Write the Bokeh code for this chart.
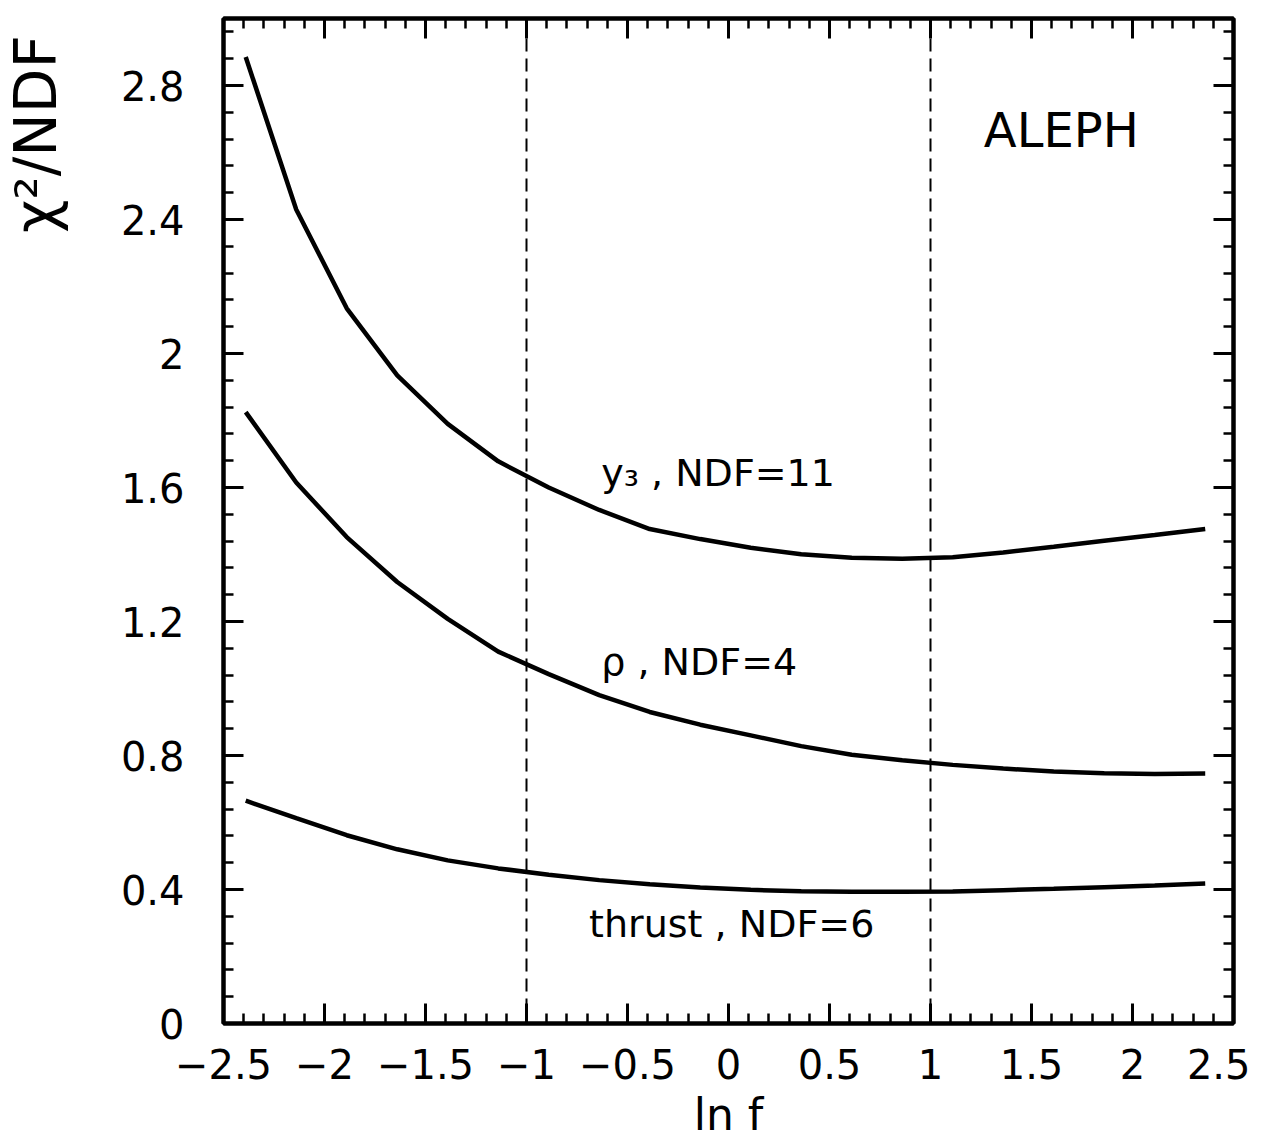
import numpy as np
from bokeh.plotting import figure
from bokeh.layouts import row
from bokeh.models import (Range1d, LinearAxis, FixedTicker, CustomJSTickFormatter,
                          Span, Label)
from bokeh.embed import file_html
from bokeh.resources import INLINE

# ---- data ----
ln_f = [-2.39, -2.14, -1.89, -1.64, -1.39, -1.14, -0.89, -0.64, -0.39, -0.14,
        0.11, 0.36, 0.61, 0.86, 1.11, 1.36, 1.61, 1.86, 2.11, 2.36]
chi2_y3 = [2.885, 2.430, 2.135, 1.935, 1.790, 1.678, 1.600, 1.533, 1.476, 1.446,
           1.420, 1.401, 1.390, 1.387, 1.392, 1.406, 1.423, 1.441, 1.458, 1.476]
chi2_rho = [1.825, 1.615, 1.452, 1.318, 1.208, 1.110, 1.043, 0.980, 0.930, 0.892,
            0.860, 0.828, 0.802, 0.786, 0.772, 0.761, 0.752, 0.747, 0.745, 0.746]
chi2_thrust = [0.665, 0.613, 0.562, 0.520, 0.487, 0.463, 0.444, 0.428, 0.416, 0.406,
               0.399, 0.395, 0.393, 0.393, 0.394, 0.398, 0.402, 0.407, 0.412, 0.418]
series_labels = ["y\u2083 , NDF=11", "\u03c1 ,  NDF=4", "thrust ,  NDF=6"]
x_ticks = [-2.5, -2.0, -1.5, -1.0, -0.5, 0.0, 0.5, 1.0, 1.5, 2.0, 2.5]
y_ticks = [0.0, 0.4, 0.8, 1.2, 1.6, 2.0, 2.4, 2.8]
dashed_at = [-1.0, 1.0]
x_title = "ln f"
y_title = "\u03c7\u00b2/NDF"
experiment = "ALEPH"

x_minor = [round(v, 2) for v in np.arange(-2.5, 2.51, 0.1)]
y_minor = [round(v, 2) for v in np.arange(0.0, 3.0, 0.08)]

FONT = "DejaVu Sans"
H = 1142
LEFT_W = 100

y_range = Range1d(0, 3)

# ---- narrow strip that carries the y-axis title ----
strip = figure(width=LEFT_W, height=H, x_range=Range1d(0, 1), y_range=y_range,
               output_backend="svg", toolbar_location=None,
               x_axis_type=None, y_axis_type=None,
               min_border_left=0, min_border_right=0, min_border_top=18,
               min_border_bottom=H - 18 - 1006)
strip.outline_line_color = None
strip.xgrid.visible = False
strip.ygrid.visible = False
strip.background_fill_color = "white"
strip.border_fill_color = "white"
strip.add_layout(Label(x=35, x_units="screen", y=2.95, y_units="data",
                       text=y_title, angle=np.pi / 2, text_font=FONT,
                       text_font_size="58px", text_color="black",
                       text_align="right", text_baseline="alphabetic"))

# ---- main plot ----
p = figure(width=1250 - LEFT_W, height=H, x_range=Range1d(-2.5, 2.5), y_range=y_range,
           output_backend="svg", toolbar_location=None,
           min_border_left=223 - LEFT_W, min_border_right=17, min_border_top=18,
           min_border_bottom=H - 18 - 1006)
p.background_fill_color = "white"
p.border_fill_color = "white"
p.outline_line_color = "black"
p.outline_line_width = 4
p.xgrid.visible = False
p.ygrid.visible = False

fmt_code = "return String(Math.round(tick*10)/10).replace('-', '\u2212');"
blank_code = "return '';"

def style_axis(ax, ticks, minor, show_labels, standoff):
    ax.ticker = FixedTicker(ticks=ticks, minor_ticks=minor)
    ax.axis_line_width = 4
    ax.axis_line_color = "black"
    ax.major_tick_in = 20
    ax.major_tick_out = 0
    ax.minor_tick_in = 10
    ax.minor_tick_out = 0
    ax.major_tick_line_width = 3
    ax.minor_tick_line_width = 2.5
    ax.major_tick_line_color = "black"
    ax.minor_tick_line_color = "black"
    ax.major_label_text_font = FONT
    ax.major_label_text_color = "black"
    if show_labels:
        ax.formatter = CustomJSTickFormatter(code=fmt_code)
        ax.major_label_text_font_size = "40px"
        ax.major_label_standoff = standoff
    else:
        ax.formatter = CustomJSTickFormatter(code=blank_code)
        ax.major_label_text_font_size = "1px"
        ax.major_label_standoff = 0

style_axis(p.xaxis[0], x_ticks, x_minor, True, 25)
style_axis(p.yaxis[0], y_ticks, y_minor, True, 39)

xa = p.xaxis[0]
xa.axis_label = x_title
xa.axis_label_text_font = FONT
xa.axis_label_text_font_size = "44px"
xa.axis_label_text_font_style = "normal"
xa.axis_label_text_color = "black"
xa.axis_label_standoff = 7

top = LinearAxis()
style_axis(top, x_ticks, x_minor, False, 0)
p.add_layout(top, "above")
right = LinearAxis()
style_axis(right, y_ticks, y_minor, False, 0)
p.add_layout(right, "right")

for loc in dashed_at:
    p.add_layout(Span(location=loc, dimension="height", line_color="black",
                      line_width=2, line_dash="13 7"))

for ys in (chi2_y3, chi2_rho, chi2_thrust):
    p.line(ln_f, ys, line_color="black", line_width=4.5)

label_kw = dict(text_font=FONT, text_color="black", text_align="left",
                text_baseline="alphabetic")
p.add_layout(Label(x=-0.63, y=1.642, text=series_labels[0], text_font_size="38px", **label_kw))
p.add_layout(Label(x=-0.63, y=1.078, text=series_labels[1], text_font_size="38px", **label_kw))
p.add_layout(Label(x=-0.69, y=0.298, text=series_labels[2], text_font_size="38px", **label_kw))
p.add_layout(Label(x=1.264, y=2.668, text=experiment, text_font_size="48px", **label_kw))

layout = row(strip, p, spacing=0)
open("out.html", "w", encoding="utf-8").write(file_html(layout, INLINE))
